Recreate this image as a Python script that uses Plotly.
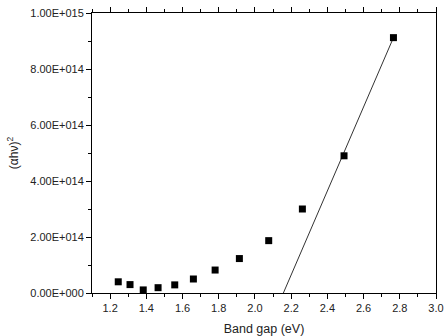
import plotly.graph_objects as go

# Data
band_gap = [1.245, 1.310, 1.383, 1.465, 1.557, 1.660, 1.780, 1.914, 2.076, 2.262, 2.492, 2.765]
ahv2 = [0.40e14, 0.30e14, 0.11e14, 0.19e14, 0.29e14, 0.50e14, 0.82e14, 1.23e14, 1.87e14, 3.00e14, 4.90e14, 9.12e14]

fit_x = [2.157, 2.765]
fit_y = [0.0, 9.12e14]

y_tickvals = [0, 2e14, 4e14, 6e14, 8e14, 1e15]
y_ticktext = ["0.00E+000", "2.00E+014", "4.00E+014", "6.00E+014", "8.00E+014", "1.00E+015"]
x_tickvals = [1.2, 1.4, 1.6, 1.8, 2.0, 2.2, 2.4, 2.6, 2.8, 3.0]
x_ticktext = ["1.2", "1.4", "1.6", "1.8", "2.0", "2.2", "2.4", "2.6", "2.8", "3.0"]

fig = go.Figure()
fig.add_trace(go.Scatter(x=fit_x, y=fit_y, mode="lines",
                         line=dict(color="#333333", width=1), showlegend=False))
fig.add_trace(go.Scatter(x=band_gap, y=ahv2, mode="markers",
                         marker=dict(symbol="square", size=7, color="black"),
                         showlegend=False))

font = "Liberation Sans, Arial, sans-serif"
fig.update_layout(
    width=446, height=336,
    margin=dict(l=92, r=10, t=13, b=43),
    paper_bgcolor="white", plot_bgcolor="white",
    font=dict(family=font, size=11, color="#222222"),
)
fig.update_xaxes(
    range=[1.1, 3.0], tickmode="array", tickvals=x_tickvals, ticktext=x_ticktext,
    showgrid=False, zeroline=False, showline=True, linecolor="black", linewidth=1,
    mirror="ticks", ticks="outside", ticklen=5, tickcolor="black", tickwidth=1,
    minor=dict(tickmode="linear", tick0=1.1, dtick=0.1, ticks="outside", ticklen=3,
               tickcolor="black", showgrid=False),
    title=dict(text="Band gap (eV)", font=dict(size=12.5), standoff=11),
    tickfont=dict(size=11), automargin=False,
)
fig.update_yaxes(
    range=[0, 1e15], tickmode="array", tickvals=y_tickvals, ticktext=y_ticktext,
    showgrid=False, zeroline=False, showline=True, linecolor="black", linewidth=1,
    mirror=True, ticks="outside", ticklen=5, tickcolor="black", tickwidth=1,
    minor=dict(tickmode="linear", tick0=0, dtick=1e14, ticks="outside", ticklen=3,
               tickcolor="black", showgrid=False),
    title=dict(text="(αhν)<sup>2</sup>", font=dict(size=12), standoff=9),
    tickfont=dict(size=11), automargin=False,
)
fig.write_html("out.html")
